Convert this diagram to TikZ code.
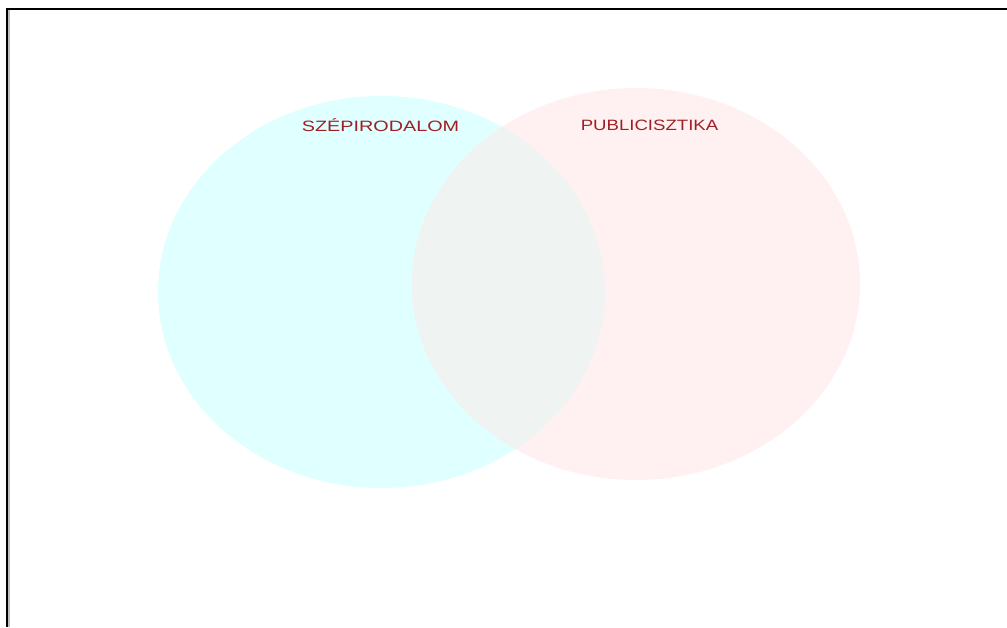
\documentclass[tikz,border=0pt]{standalone}
\usepackage{fontspec}
\setmainfont{Liberation Sans}
\definecolor{cyanfill}{RGB}{224,255,255}
\definecolor{pinkfill}{RGB}{255,241,241}
\definecolor{overlapfill}{RGB}{239,243,241}
\definecolor{labelred}{RGB}{158,32,36}
\definecolor{edgegray}{RGB}{190,190,190}
\tikzset{
  setlabel/.style={text=labelred, font=\fontsize{15}{15}\selectfont, inner sep=0pt, anchor=center}
}
\begin{document}
\begin{tikzpicture}[x=1pt,y=-1pt]
\useasboundingbox (0,0) rectangle (1007,627);
\fill[white] (0,0) rectangle (1007,627);
% sets
\fill[cyanfill] (381.5,292) ellipse [x radius=223.5, y radius=196];
\fill[pinkfill] (636,284) ellipse [x radius=224, y radius=196];
\begin{scope}
  \clip (381.5,292) ellipse [x radius=223.5, y radius=196];
  \fill[overlapfill] (636,284) ellipse [x radius=224, y radius=196];
\end{scope}
% labels
\node[setlabel, xscale=1.32] (szep) at (380.5,125.5) {SZÉPIRODALOM};
\node[setlabel, xscale=1.24] (publ) at (649.5,125.5) {PUBLICISZTIKA};
% frame
\fill[edgegray] (8,10) rectangle (9.5,627);
\fill[black] (6,8) rectangle (1007,10);
\fill[black] (6,8) rectangle (8,627);
\end{tikzpicture}
\end{document}
